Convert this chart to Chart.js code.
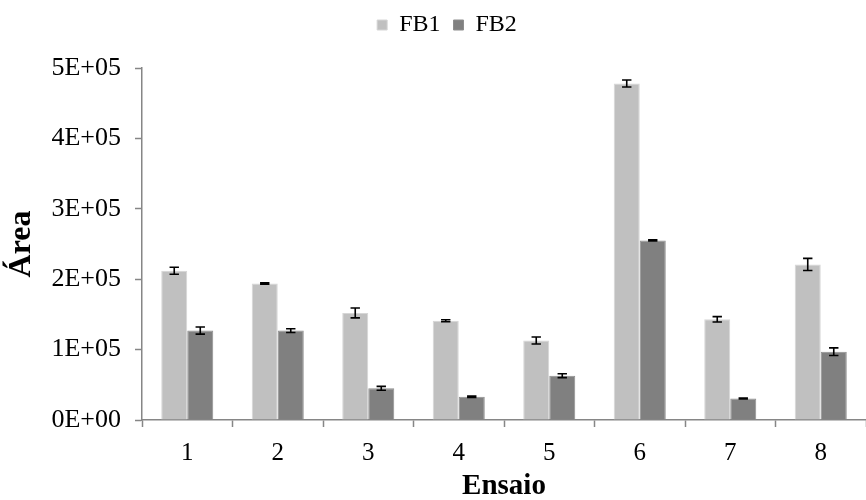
<!DOCTYPE html>
<html>
<head>
<meta charset="utf-8">
<script src="https://cdn.jsdelivr.net/npm/chart.js@4/dist/chart.umd.min.js"></script>
<style>
  html, body { margin: 0; padding: 0; background: #fff; overflow: hidden; }
  #wrap { width: 866px; height: 500px; position: relative; }
</style>
</head>
<body>
<div id="wrap"><canvas id="grafico"></canvas></div>
<script>
const ensaios = ['1', '2', '3', '4', '5', '6', '7', '8'];
const fb1 = [212000, 194000, 152000, 141000, 113000, 478000, 143000, 221000];
const fb1Erro = [5000, 1000, 7000, 1500, 5000, 5000, 3800, 8600];
const fb2 = [127000, 127000, 45000, 33000, 63000, 255000, 30500, 97000];
const fb2Erro = [5000, 2700, 2800, 1000, 2800, 800, 700, 5400];
const yTicks = [0, 100000, 200000, 300000, 400000, 500000];

const serif = 'Liberation Serif';

// desenha as barras de erro a partir das escalas do gráfico
const barrasErro = {
  id: 'barrasErro',
  afterDatasetsDraw(chart) {
    const ctx = chart.ctx;
    const y = chart.scales.y;
    chart.data.datasets.forEach((ds, i) => {
      const meta = chart.getDatasetMeta(i);
      meta.data.forEach((bar, j) => {
        const v = ds.data[j], e = ds.erro[j];
        const yTop = y.getPixelForValue(v + e);
        const yBot = y.getPixelForValue(v - e);
        ctx.save();
        ctx.strokeStyle = '#000';
        ctx.lineWidth = 1.6;
        ctx.beginPath();
        ctx.moveTo(bar.x, yTop); ctx.lineTo(bar.x, yBot);
        ctx.moveTo(bar.x - 4.7, yTop); ctx.lineTo(bar.x + 4.7, yTop);
        ctx.moveTo(bar.x - 4.7, yBot); ctx.lineTo(bar.x + 4.7, yBot);
        ctx.stroke();
        ctx.restore();
      });
    });
  }
};

// espaço extra entre a legenda e o gráfico
const espacoLegenda = {
  id: 'espacoLegenda',
  beforeInit(chart) {
    const fitOrig = chart.legend.fit;
    chart.legend.fit = function () {
      fitOrig.call(this);
      this.height += 21;
    };
  }
};

new Chart(document.getElementById('grafico'), {
  type: 'bar',
  data: {
    labels: ensaios,
    datasets: [
      { label: 'FB1', data: fb1, erro: fb1Erro, backgroundColor: '#c0c0c0', borderColor: '#d6d6d6', borderWidth: 1 },
      { label: 'FB2', data: fb2, erro: fb2Erro, backgroundColor: '#808080', borderColor: '#8e8e8e', borderWidth: 1 }
    ]
  },
  options: {
    responsive: true,
    maintainAspectRatio: false,
    animation: false,
    datasets: { bar: { categoryPercentage: 0.575, barPercentage: 1.0 } },
    layout: { padding: { left: 19.5, right: -8.5, top: 0, bottom: 0 } },
    plugins: {
      legend: {
        position: 'top',
        labels: {
          font: { family: serif, size: 24 },
          color: '#000',
          boxWidth: 10, boxHeight: 10,
          padding: 13
        }
      },
      tooltip: { enabled: false }
    },
    scales: {
      x: {
        afterFit(scale) { scale.height = 80; },
        grid: { drawOnChartArea: false, color: '#868686', tickLength: 7, tickWidth: 1.5 },
        border: { color: '#868686', width: 1.5 },
        ticks: { color: '#000', font: { family: serif, size: 25 }, padding: 11 },
        title: {
          display: true, text: 'Ensaio', color: '#000',
          font: { family: serif, size: 29, weight: 'bold', lineHeight: 0.9 },
          padding: { top: 0, bottom: 0 }
        }
      },
      y: {
        min: 0, max: 500000,
        afterFit(scale) { scale.width = 122.5; },
        afterBuildTicks(axis) { axis.ticks = yTicks.map(v => ({ value: v })); },
        grid: { drawOnChartArea: false, color: '#868686', tickLength: 7, tickWidth: 1.5 },
        border: { color: '#868686', width: 1.5 },
        ticks: {
          color: '#000',
          font: { family: serif, size: 26 },
          padding: 14,
          callback: v => v.toExponential(0).replace('e+', 'E+0')
        },
        title: {
          display: true, text: 'Área', color: '#000',
          font: { family: serif, size: 32, weight: 'bold', lineHeight: 1 },
          padding: { top: -13.5, bottom: 0 }
        }
      }
    }
  },
  plugins: [barrasErro, espacoLegenda]
});
</script>
</body>
</html>
